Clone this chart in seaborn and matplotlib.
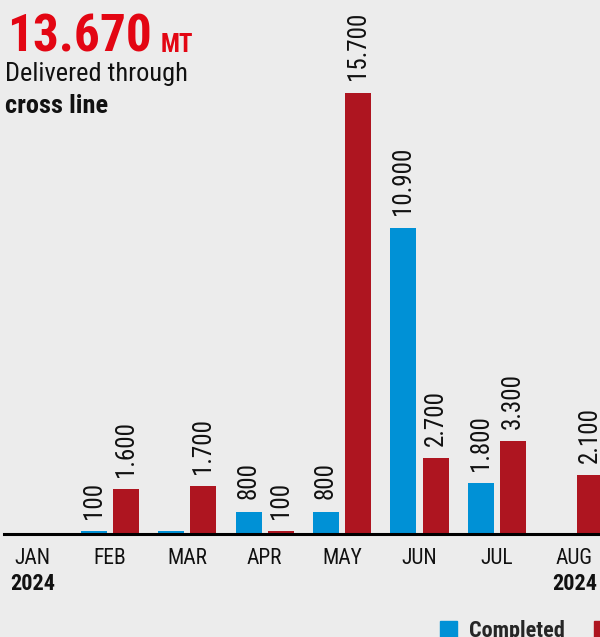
import matplotlib
matplotlib.use("Agg")
import matplotlib.pyplot as plt
import matplotlib.patches as mpatches
from matplotlib import font_manager
import pandas as pd
import seaborn as sns

# ─── DATA ────────────────────────────────────────────────────────────────────
months      = ["JAN", "FEB", "MAR", "APR", "MAY", "JUN", "JUL", "AUG"]
completed   = [0, 100, 100, 800, 800, 10900, 1800, 0]
planned     = [0, 1600, 1700, 100, 15700, 2700, 3300, 2100]
hidden_lbl  = {("Completed", "MAR")}          # bar drawn, value not printed
year_marks  = {"JAN": "2024", "AUG": "2024"}
total_label = "13.670"
series      = ["Completed", "Planned"]

BG    = "#ececec"
BLUE  = "#0091d6"
RED   = "#ae1520"
TITLE = "#e30613"
INK   = "#111111"

sns.set_theme(style="white", rc={"axes.facecolor": BG, "figure.facecolor": BG})
names = {f.name for f in font_manager.fontManager.ttflist}
narrow = [n for n in ["Roboto Condensed", "Liberation Sans Narrow"] if n in names]
plt.rcParams["font.family"] = narrow + ["Roboto", "DejaVu Sans"]

df = pd.DataFrame({
    "month":  months * 2,
    "series": ["Completed"] * len(months) + ["Planned"] * len(months),
    "value":  completed + planned,
})

fig = plt.figure(figsize=(6, 6.37), dpi=100)
# axes deliberately runs past the right edge, like the cropped original
ax = fig.add_axes([4 / 600, 103 / 637, 616 / 600, 500 / 637])

sns.barplot(data=df, x="month", y="value", hue="series", order=months,
            hue_order=series, palette=[BLUE, RED], width=0.83, gap=0.19,
            saturation=1, linewidth=0, legend=False, ax=ax)

ax.set_xlim(-28.5 / 77.4, (620 - 32.5) / 77.4)
ax.set_ylim(0, 17800)
ax.set_yticks([])
ax.set_xlabel("")
ax.set_ylabel("")
for s in ["top", "right", "left"]:
    ax.spines[s].set_visible(False)
ax.spines["bottom"].set_color("black")
ax.spines["bottom"].set_linewidth(2.2)
ax.tick_params(axis="x", length=0, pad=10, labelsize=15.5, colors=INK)

# value labels
fmt = lambda v: f"{v:,}".replace(",", ".") if v else ""
for cont, name, vals in zip(ax.containers, series, [completed, planned]):
    labels = ["" if (name, m) in hidden_lbl else fmt(v) for m, v in zip(months, vals)]
    ax.bar_label(cont, labels=labels, rotation=90, padding=9, fontsize=18, color=INK)

# year under selected months
for i, m in enumerate(months):
    if m in year_marks:
        ax.annotate(year_marks[m], xy=(i, 0), xycoords=("data", "axes fraction"),
                    xytext=(0, -28), textcoords="offset points", ha="center", va="top",
                    fontsize=16, fontweight="bold", color=INK, annotation_clip=False)

# headline
base_y = (637 - 52) / 637
t = fig.text(7 / 600, base_y, total_label, fontsize=37, fontweight="bold",
             color=TITLE, va="baseline", ha="left")
fig.canvas.draw()
x_end = t.get_window_extent().x1 / fig.bbox.width
fig.text(x_end + 9 / 600, base_y, "MT", fontsize=18, fontweight="bold",
         color=TITLE, va="baseline", ha="left")
fig.text(5 / 600, (637 - 81) / 637, "Delivered through", fontsize=19, color=INK, va="baseline")
fig.text(5 / 600, (637 - 113) / 637, "cross line", fontsize=19, fontweight="bold",
         color=INK, va="baseline")

handles = [mpatches.Patch(color=BLUE), mpatches.Patch(color=RED)]
fig.legend(handles, series, loc="upper left", bbox_to_anchor=(440 / 600, 17 / 637),
           ncol=2, frameon=False, handlelength=0.75, handleheight=0.75,
           handletextpad=0.55, columnspacing=1.3, borderpad=0, borderaxespad=0,
           prop={"size": 16, "weight": "bold"})

fig.savefig("out.png", dpi=100, facecolor=BG)
